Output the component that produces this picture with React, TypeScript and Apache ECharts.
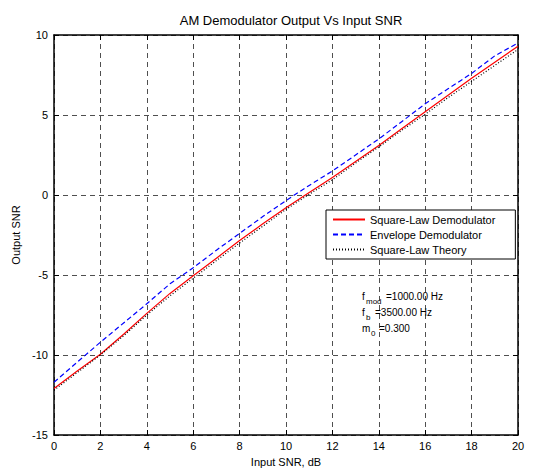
import React, { useEffect, useRef } from "react";
import * as echarts from "echarts";

const inputSnr = [0, 1, 2, 3, 4, 5, 6, 7, 8, 9, 10, 11, 12, 13, 14, 15, 16, 17, 18, 19, 20];
const squareLawSim = [-12.1, -11.0, -9.95, -8.7, -7.4, -6.15, -5.05, -3.95, -2.85, -1.8, -0.8, 0.15, 1.1, 2.1, 3.1, 4.15, 5.2, 6.25, 7.3, 8.3, 9.3];
const envelopeSim = [-11.7, -10.45, -9.2, -8.0, -6.8, -5.55, -4.55, -3.45, -2.4, -1.35, -0.35, 0.6, 1.5, 2.5, 3.5, 4.6, 5.7, 6.65, 7.6, 8.7, 9.5];
const squareLawTheory = [-12.2, -11.1, -10.0, -8.8, -7.5, -6.3, -5.2, -4.1, -3.0, -1.95, -0.9, 0.05, 0.95, 2.0, 3.0, 4.05, 5.05, 6.1, 7.1, 8.1, 9.1];
const seriesNames = ["Square-Law Demodulator", "Envelope Demodulator", "Square-Law Theory"];
const titleText = "AM Demodulator Output Vs Input SNR";
const xName = "Input SNR, dB";
const yName = "Output SNR";

const FONT = "Liberation Sans, Arial, sans-serif";

export default function App() {
  const ref = useRef<HTMLDivElement>(null);
  useEffect(() => {
    document.body.style.margin = "0";
    const chart = echarts.init(ref.current!, undefined, { renderer: "svg" });
    const pair = (ys: number[]) => inputSnr.map((x, i) => [x, ys[i]]);
    const axisCommon = {
      axisLine: { show: true, onZero: false, lineStyle: { color: "#000", width: 1.5 } },
      axisTick: { show: true, inside: true, length: 5, lineStyle: { color: "#000", width: 1 } },
    };
    chart.setOption({
      animation: false,
      backgroundColor: "#fff",
      textStyle: { fontFamily: FONT },
      title: {
        text: titleText,
        left: 286,
        top: 9,
        textAlign: "center",
        textStyle: { fontFamily: FONT, fontSize: 13, fontWeight: "normal", color: "#000" },
      },
      grid: { left: 54, right: 34, top: 35, bottom: 37 },
      legend: {
        orient: "vertical",
        left: 326,
        top: 210,
        data: seriesNames,
        backgroundColor: "#fff",
        borderColor: "#000",
        borderWidth: 1,
        padding: [4, 20, 4, 6],
        itemGap: 4,
        itemWidth: 32,
        itemHeight: 12,
        borderRadius: 0,
        itemStyle: { opacity: 0 },
        textStyle: { fontFamily: FONT, fontSize: 11, color: "#000" },
      },
      xAxis: [
        {
          type: "value",
          min: 0,
          max: 20,
          interval: 2,
          name: xName,
          nameLocation: "middle",
          nameGap: 21,
          nameTextStyle: { fontFamily: FONT, fontSize: 11, color: "#000" },
          ...axisCommon,
          axisLabel: { color: "#000", fontSize: 11, fontFamily: FONT, margin: 5 },
          splitLine: { show: true, lineStyle: { color: "#222", type: [5, 4], width: 0.8 } },
        },
        {
          type: "value",
          position: "top",
          min: 0,
          max: 20,
          interval: 2,
          ...axisCommon,
          axisLabel: { show: false },
          splitLine: { show: false },
        },
      ],
      yAxis: [
        {
          type: "value",
          min: -15,
          max: 10,
          interval: 5,
          name: yName,
          nameLocation: "middle",
          nameGap: 24,
          nameTextStyle: { fontFamily: FONT, fontSize: 11, color: "#000" },
          ...axisCommon,
          axisLabel: { color: "#000", fontSize: 11, fontFamily: FONT, margin: 6 },
          splitLine: { show: true, lineStyle: { color: "#222", type: [5, 4], width: 0.8 } },
        },
        {
          type: "value",
          position: "right",
          min: -15,
          max: 10,
          interval: 5,
          ...axisCommon,
          axisLabel: { show: false },
          splitLine: { show: false },
        },
      ],
      series: [
        {
          name: seriesNames[0],
          type: "line",
          data: pair(squareLawSim),
          symbol: "none",
          itemStyle: { color: "#ff0000" },
          lineStyle: { color: "#ff0000", width: 1.2, type: "solid" },
          z: 3,
        },
        {
          name: seriesNames[1],
          type: "line",
          data: pair(envelopeSim),
          symbol: "none",
          itemStyle: { color: "#0000ff" },
          lineStyle: { color: "#0000ff", width: 1.2, type: [5, 3] },
          z: 4,
        },
        {
          name: seriesNames[2],
          type: "line",
          data: pair(squareLawTheory),
          symbol: "none",
          itemStyle: { color: "#000" },
          lineStyle: { color: "#000", width: 1.2, type: [1, 2] },
          z: 5,
        },
      ],
      graphic: [
        { type: "text", left: 362, top: 291, style: { text: "f", fontSize: 10, fontFamily: FONT, fill: "#000" } },
        { type: "text", left: 366, top: 297, style: { text: "mod", fontSize: 8, fontFamily: FONT, fill: "#000" } },
        { type: "text", left: 386, top: 291, style: { text: "=1000.00 Hz", fontSize: 10, fontFamily: FONT, fill: "#000" } },
        { type: "text", left: 362, top: 307, style: { text: "f", fontSize: 10, fontFamily: FONT, fill: "#000" } },
        { type: "text", left: 366, top: 313, style: { text: "b", fontSize: 8, fontFamily: FONT, fill: "#000" } },
        { type: "text", left: 375, top: 307, style: { text: "=3500.00 Hz", fontSize: 10, fontFamily: FONT, fill: "#000" } },
        { type: "text", left: 362, top: 323, style: { text: "m", fontSize: 10, fontFamily: FONT, fill: "#000" } },
        { type: "text", left: 371, top: 329, style: { text: "0", fontSize: 8, fontFamily: FONT, fill: "#000" } },
        { type: "text", left: 379, top: 323, style: { text: "=0.300", fontSize: 10, fontFamily: FONT, fill: "#000" } },
      ],
    });
    return () => chart.dispose();
  }, []);
  return <div ref={ref} style={{ width: 552, height: 472 }} />;
}
